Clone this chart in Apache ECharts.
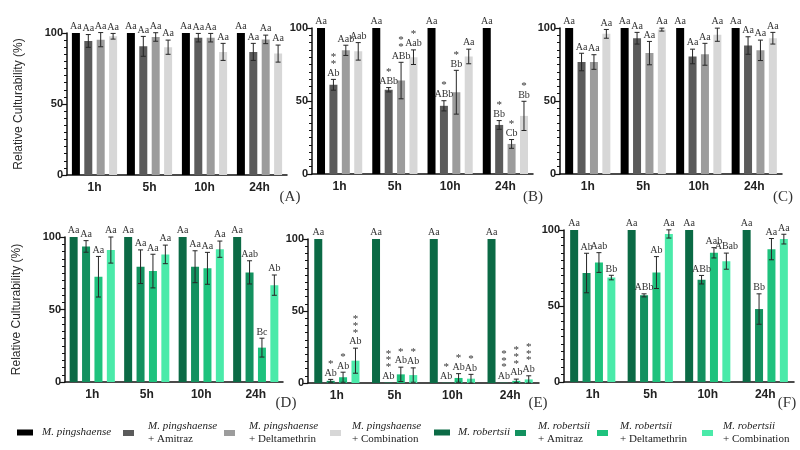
<!DOCTYPE html>
<html>
<head>
<meta charset="utf-8">
<script src="https://cdn.jsdelivr.net/npm/echarts@6.0.0/dist/echarts.min.js"></script>
<style>
html,body{margin:0;padding:0;background:#fff;}
#chart{width:800px;height:450px;}
</style>
</head>
<body>
<div id="chart"></div>
<script>
// ---------------- DATA ----------------
const categories = ['1h', '5h', '10h', '24h'];
const yTicks = [0, 50, 100];
const grayNames = ['M. pingshaense', 'M. pingshaense + Amitraz', 'M. pingshaense + Deltamethrin', 'M. pingshaense + Combination'];
const greenNames = ['M. robertsii', 'M. robertsii + Amitraz', 'M. robertsii + Deltamethrin', 'M. robertsii + Combination'];
const panelLabels = ['(A)', '(B)', '(C)', '(D)', '(E)', '(F)'];

// rows = treatment (control, +Amitraz, +Deltamethrin, +Combination), columns = time
const aMean = [[100, 100, 100, 100], [94.4, 90.6, 96.7, 86.7], [95.3, 97.2, 96.7, 95.5], [97.7, 90, 86.7, 85.5]];
const aErr = [[0, 0, 0, 0], [4.5, 7, 3, 6], [5, 3, 3, 3], [2, 5, 6, 6]];
const aLetters = [['Aa', 'Aa', 'Aa', 'Aa'], ['Aa', 'Aa', 'Aa', 'Aa'], ['Aa', 'Aa', 'Aa', 'Aa'], ['Aa', 'Aa', 'Aa', 'Aa']];
const aStars = [[0, 0, 0, 0], [0, 0, 0, 0], [0, 0, 0, 0], [0, 0, 0, 0]];

const bMean = [[100, 100, 100, 100], [61.1, 57.7, 46.7, 33.6], [84.7, 64, 56, 20.6], [84, 80, 80.5, 39.8]];
const bErr = [[0, 0, 0, 0], [3.7, 1.5, 3.5, 3], [3.5, 12.5, 15, 3], [6, 5, 5, 10]];
const bLetters = [['Aa', 'Aa', 'Aa', 'Aa'], ['Ab', 'ABb', 'ABb', 'Bb'], ['Aab', 'ABb', 'Bb', 'Cb'], ['Aab', 'Aab', 'Aa', 'Bb']];
const bStars = [[0, 0, 0, 0], [2, 1, 1, 1], [0, 2, 1, 1], [0, 1, 0, 1]];

const cMean = [[100, 100, 100, 100], [76.7, 93, 80.5, 88], [76.7, 82.8, 82, 84.7], [96, 98.9, 95.4, 93]];
const cErr = [[0, 0, 0, 0], [6, 4, 5, 6], [5, 8, 7.5, 7], [3, 1, 4.5, 4]];
const cLetters = [['Aa', 'Aa', 'Aa', 'Aa'], ['Aa', 'Aa', 'Aa', 'Aa'], ['Aa', 'Aa', 'Aa', 'Aa'], ['Aa', 'Aa', 'Aa', 'Aa']];
const cStars = [[0, 0, 0, 0], [0, 0, 0, 0], [0, 0, 0, 0], [0, 0, 0, 0]];

const dMean = [[100, 100, 100, 100], [93.5, 79.5, 79.5, 75.6], [72.6, 76.5, 78.4, 23.7], [91, 88, 91.6, 66.8]];
const dErr = [[0, 0, 0, 0], [4, 11.6, 11, 8], [14, 11.6, 11, 6.5], [9, 6.4, 5.6, 7]];
const dLetters = [['Aa', 'Aa', 'Aa', 'Aa'], ['Aa', 'Aa', 'Aa', 'Aab'], ['Aa', 'Aa', 'Aa', 'Bc'], ['Aa', 'Aa', 'Aa', 'Ab']];
const dStars = [[0, 0, 0, 0], [0, 0, 0, 0], [0, 0, 0, 0], [0, 0, 0, 0]];

const eMean = [[100, 100, 100, 100], [1.5, 0.3, 0.2, 0.2], [4, 6, 3.5, 1.5], [15.5, 5.5, 3, 2.5]];
const eErr = [[0, 0, 0, 0], [1, 0, 0, 0], [3.5, 5, 3, 1.2], [8.7, 5, 3, 2.5]];
const eLetters = [['Aa', 'Aa', 'Aa', 'Aa'], ['Ab', 'Ab', 'Ab', 'Ab'], ['Ab', 'Ab', 'Ab', 'Ab'], ['Ab', 'Ab', 'Ab', 'Ab']];
const eStars = [[0, 0, 0, 0], [1, 3, 1, 3], [1, 1, 1, 3], [3, 1, 1, 3]];

const fMean = [[100, 100, 100, 100], [71.7, 57, 67.3, 48], [78.6, 72, 85, 87.4], [68.7, 97.4, 79.5, 94]];
const fErr = [[0, 0, 0, 0], [13, 1, 2.8, 10], [6.5, 10.5, 3.4, 7], [1.5, 2.7, 5.3, 3.2]];
const fLetters = [['Aa', 'Aa', 'Aa', 'Aa'], ['Ab', 'ABb', 'ABb', 'Bb'], ['Aab', 'Ab', 'Aab', 'Aa'], ['Bb', 'Aa', 'ABab', 'Aa']];
const fStars = [[0, 0, 0, 0], [0, 0, 0, 0], [0, 0, 0, 0], [0, 0, 0, 0]];

// ---------------- STYLE / LAYOUT ----------------
const grayColors = ['#000000', '#5b5b5b', '#9c9c9c', '#d7d7d7'];
const greenColors = ['#0b6a45', '#13915f', '#1ec27d', '#4aeaa9'];
const BAR_W = 8, BAR_GAP = 0.55;
const STEP = BAR_W * (1 + BAR_GAP);
const serif = '"Liberation Serif", "DejaVu Serif", serif';
const sans = '"Liberation Sans", Arial, sans-serif';

const panels = [
  { grid: { left: 67, top: 33, width: 220, height: 142 }, names: grayNames, colors: grayColors, yName: true,
    mean: aMean, err: aErr, letters: aLetters, stars: aStars, lab: [290, 197] },
  { grid: { left: 312, top: 28, width: 221, height: 146 }, names: grayNames, colors: grayColors, yName: false,
    mean: bMean, err: bErr, letters: bLetters, stars: bStars, lab: [533, 197] },
  { grid: { left: 560, top: 28, width: 222, height: 146 }, names: grayNames, colors: grayColors, yName: false,
    mean: cMean, err: cErr, letters: cLetters, stars: cStars, lab: [783, 197] },
  { grid: { left: 65, top: 237, width: 218, height: 145 }, names: greenNames, colors: greenColors, yName: true,
    mean: dMean, err: dErr, letters: dLetters, stars: dStars, lab: [286, 403] },
  { grid: { left: 308, top: 239, width: 231, height: 144 }, names: greenNames, colors: greenColors, yName: false,
    mean: eMean, err: eErr, letters: eLetters, stars: eStars, lab: [538, 403] },
  { grid: { left: 564, top: 230, width: 230, height: 152 }, names: greenNames, colors: greenColors, yName: false,
    mean: fMean, err: fErr, letters: fLetters, stars: fStars, lab: [787, 403] }
];

const grids = [], xAxes = [], yAxes = [], series = [];

panels.forEach((p, pi) => {
  grids.push(Object.assign({ containLabel: false }, p.grid));
  xAxes.push({
    type: 'category', gridIndex: pi, data: categories,
    axisLine: { lineStyle: { color: '#111', width: 1.5 } },
    axisTick: { alignWithLabel: true, length: 4, lineStyle: { color: '#111', width: 1.2 } },
    axisLabel: { color: '#222', fontWeight: 'bold', fontSize: 12, fontFamily: sans, margin: 7 }
  });
  yAxes.push({
    type: 'value', gridIndex: pi, min: yTicks[0], max: yTicks[2], interval: yTicks[1] - yTicks[0],
    name: p.yName ? 'Relative Culturability (%)' : '',
    nameLocation: 'middle', nameGap: 42,
    nameTextStyle: { color: '#2a2a2a', fontSize: 12, fontFamily: sans },
    axisLine: { show: true, lineStyle: { color: '#111', width: 1.5 } },
    axisTick: { show: true, length: 5, lineStyle: { color: '#111', width: 1.2 } },
    minorTick: { show: true, splitNumber: 10, length: 3, lineStyle: { color: '#111', width: 1 } },
    splitLine: { show: false },
    axisLabel: { color: '#222', fontWeight: 'bold', fontSize: 11, fontFamily: sans, margin: 4 }
  });
  for (let s = 0; s < 4; s++) {
    series.push({
      type: 'bar', name: p.names[s], xAxisIndex: pi, yAxisIndex: pi,
      data: p.mean[s], barWidth: BAR_W, barGap: (BAR_GAP * 100) + '%',
      itemStyle: { color: p.colors[s] }, silent: true
    });
  }
  const cdata = [];
  for (let s = 0; s < 4; s++) for (let i = 0; i < categories.length; i++) {
    cdata.push([i, p.mean[s][i], p.err[s][i], s]);
  }
  series.push({
    type: 'custom', name: 'annot' + pi, xAxisIndex: pi, yAxisIndex: pi, silent: true,
    encode: { x: 0, y: 1 }, data: cdata, z: 5,
    renderItem: function (params, api) {
      const i = api.value(0), m = api.value(1), e = api.value(2), s = api.value(3);
      const c = api.coord([i, 0]);
      const x = c[0] + (s - 1.5) * STEP;
      const yTop = api.coord([i, m + e])[1];
      const yBot = api.coord([i, Math.max(0, m - e)])[1];
      const ch = [];
      if (e > 0) {
        const st = { stroke: '#262626', lineWidth: 1 };
        ch.push({ type: 'line', shape: { x1: x, y1: yTop, x2: x, y2: yBot }, style: st });
        ch.push({ type: 'line', shape: { x1: x - 2.5, y1: yTop, x2: x + 2.5, y2: yTop }, style: st });
        ch.push({ type: 'line', shape: { x1: x - 2.5, y1: yBot, x2: x + 2.5, y2: yBot }, style: st });
      }
      const lc = yTop - 6.3;
      ch.push({ type: 'text', x: x, y: lc, style: {
        text: p.letters[s][i], align: 'center', verticalAlign: 'middle',
        fontFamily: serif, fontSize: 10, fill: '#333' } });
      const n = p.stars[s][i];
      for (let k = 0; k < n; k++) {
        ch.push({ type: 'text', x: x, y: lc - 11 - k * 6.7 + 2, style: {
          text: '*', align: 'center', verticalAlign: 'middle',
          fontFamily: serif, fontSize: 11, fill: '#333' } });
      }
      return { type: 'group', children: ch };
    }
  });
});

// legends: one component per item for precise placement
const legendItems = [
  { name: grayNames[0], left: 17, w: 16, pad: 4 },
  { name: grayNames[1], left: 123, w: 11, pad: 9 },
  { name: grayNames[2], left: 224, w: 11, pad: 9 },
  { name: grayNames[3], left: 330, w: 11, pad: 6 },
  { name: greenNames[0], left: 434, w: 16, pad: 3 },
  { name: greenNames[1], left: 515, w: 11, pad: 7 },
  { name: greenNames[2], left: 597, w: 11, pad: 7 },
  { name: greenNames[3], left: 702, w: 11, pad: 5 }
];
const legends = legendItems.map(it => {
  const two = it.name.indexOf(' + ') >= 0;
  return {
    data: [it.name], left: it.left, top: two ? 421 : 427, padding: 0,
    icon: 'rect', itemWidth: it.w, itemHeight: 6, selectedMode: false,
    formatter: function (name) {
      const parts = name.split(' + ');
      return parts.length > 1 ? '{i|' + parts[0] + '}\n{n|+ ' + parts[1] + '}' : '{i|' + parts[0] + '}';
    },
    textStyle: {
      padding: [0, 0, 0, it.pad],
      rich: {
        i: { fontFamily: serif, fontStyle: 'italic', fontSize: 11, color: '#222', lineHeight: 13 },
        n: { fontFamily: serif, fontSize: 11, color: '#222', lineHeight: 13 }
      }
    }
  };
});

const graphics = panels.map((p, pi) => ({
  type: 'text', x: p.lab[0], y: p.lab[1], silent: true,
  style: { text: panelLabels[pi], align: 'center', verticalAlign: 'middle', fontFamily: serif, fontSize: 15, fill: '#333' }
}));

const chart = echarts.init(document.getElementById('chart'), null, { renderer: 'canvas' });
chart.setOption({
  animation: false,
  backgroundColor: '#ffffff',
  grid: grids, xAxis: xAxes, yAxis: yAxes, series: series,
  legend: legends, graphic: graphics
});
</script>
</body>
</html>
